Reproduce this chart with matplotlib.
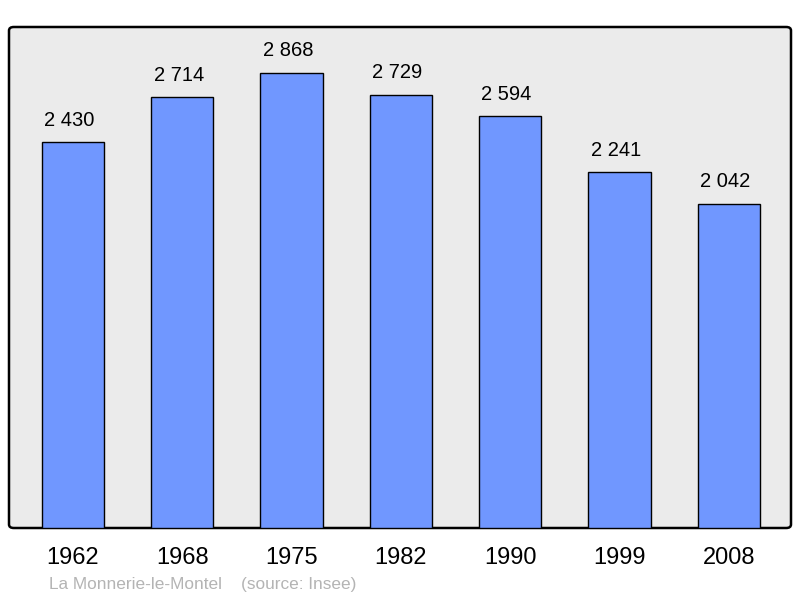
import matplotlib
matplotlib.use("Agg")
import matplotlib.pyplot as plt
from matplotlib.patches import FancyBboxPatch

years = ["1962", "1968", "1975", "1982", "1990", "1999", "2008"]
population = [2430, 2714, 2868, 2729, 2594, 2241, 2042]
value_labels = ["2 430", "2 714", "2 868", "2 729", "2 594", "2 241", "2 042"]
source_text = "La Monnerie-le-Montel    (source: Insee)"

plt.rcParams['font.family'] = ['Liberation Sans', 'DejaVu Sans']

fig = plt.figure(figsize=(8, 5.98), dpi=100)
bg = FancyBboxPatch((9/800, 70/598), 782/800, 501/598,
                    boxstyle="round,pad=0,rounding_size=0.006",
                    transform=fig.transFigure, facecolor='#EBEBEB',
                    edgecolor='black', linewidth=1.8, zorder=0)
fig.patches.append(bg)

ax = fig.add_axes([9/800, 70/598, 782/800, 501/598])
ax.set_zorder(2)
ax.set_facecolor('none')
for s in ax.spines.values():
    s.set_visible(False)

x = list(range(len(years)))
ax.bar(x, population, width=0.57, color='#7097FF', edgecolor='black', linewidth=1.0, zorder=2)
for xi, v, lab in zip(x, population, value_labels):
    ax.annotate(lab, (xi, v), xytext=(-2.5, 9), textcoords='offset points',
                ha='center', va='bottom', fontsize=14.5)

ax.set_xlim(-0.585, 6.57)
ax.set_ylim(0, 3157)
ax.set_yticks([])
ax.set_xticks(x)
ax.set_xticklabels(years, fontsize=17)
ax.tick_params(axis='x', length=0, pad=14)

fig.text(49/800, 1 - 584/598, source_text, fontsize=12.4, color='#B4B4B4', va='center', ha='left')

fig.savefig("out.png", dpi=100)
